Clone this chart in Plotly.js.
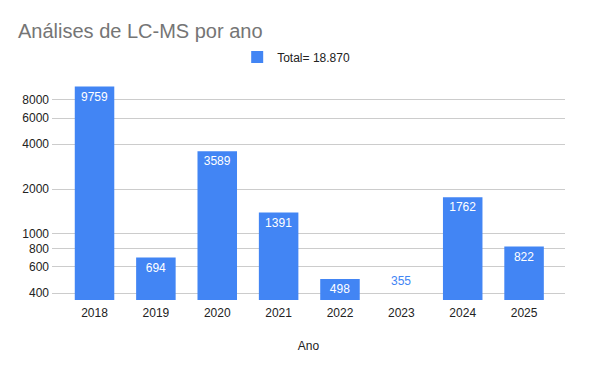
<!DOCTYPE html>
<html>
<head>
<meta charset="utf-8">
<script src="https://cdn.plot.ly/plotly-3.0.1.min.js"></script>
<style>html,body{margin:0;padding:0;background:#fff}#chart{width:600px;height:371px}</style>
</head>
<body>
<div id="chart"></div>
<script>
const years = ['2018','2019','2020','2021','2022','2023','2024','2025'];
const analyses = [9759, 694, 3589, 1391, 498, 355, 1762, 822];
const seriesName = 'Total= 18.870';
const yTickVals = [400, 600, 800, 1000, 2000, 4000, 6000, 8000];
const yTickText = ['400', '600', '800', '1000', '2000', '4000', '6000', '8000'];
const yMin = 360, yMax = 11670;

const BLUE = '#4285F4';
const FONT = 'Arial, "Liberation Sans", sans-serif';

// Labels for bars that fall below the axis minimum are drawn above the axis
const hidden = analyses.map(v => v < yMin);
const annotations = [];
years.forEach((y, i) => {
  if (!hidden[i]) return;
  annotations.push({
    x: i, xref: 'x', y: 0, yref: 'paper',
    text: String(analyses[i]), showarrow: false,
    yanchor: 'bottom', yshift: 10,
    font: {family: FONT, size: 12, color: BLUE}
  });
});

const trace = {
  type: 'bar',
  x: years,
  y: analyses,
  name: seriesName,
  marker: {color: BLUE},
  text: analyses.map((v, i) => hidden[i] ? '' : String(v)),
  textposition: 'inside',
  insidetextanchor: 'end',
  textangle: 0,
  insidetextfont: {family: FONT, size: 12, color: '#ffffff'},
  hoverinfo: 'x+y',
  showlegend: true
};

const layout = {
  width: 600, height: 371,
  autosize: false,
  margin: {l: 52, r: 35, t: 75, b: 71, pad: 0, autoexpand: false},
  paper_bgcolor: '#ffffff', plot_bgcolor: '#ffffff',
  font: {family: FONT, size: 12, color: '#222222'},
  title: {
    text: 'Análises de LC-MS por ano',
    font: {family: FONT, size: 20, color: '#757575'},
    x: 0.03, xanchor: 'left', xref: 'container',
    y: 0.916, yanchor: 'middle', yref: 'container'
  },
  bargap: 0.356,
  showlegend: true,
  legend: {
    orientation: 'h', x: 0.476, xanchor: 'center',
    y: 1.08, yanchor: 'middle',
    font: {family: FONT, size: 12, color: '#222222'}
  },
  xaxis: {
    type: 'category',
    range: [-0.693, 7.667],
    showgrid: false, zeroline: false, showline: false,
    ticks: '', tickangle: 0, automargin: false,
    ticklabelstandoff: 4,
    tickfont: {family: FONT, size: 12, color: '#222222'},
    title: {text: 'Ano', font: {family: FONT, size: 12, color: '#222222'}, standoff: 22}
  },
  yaxis: {
    type: 'log',
    range: [Math.log10(yMin), Math.log10(yMax)],
    tickmode: 'array', tickvals: yTickVals, ticktext: yTickText,
    showgrid: true, gridcolor: '#cccccc', gridwidth: 1,
    zeroline: false, showline: false, ticks: '', automargin: false,
    ticklabelstandoff: 2,
    tickfont: {family: FONT, size: 12, color: '#222222'}
  },
  annotations: annotations
};

Plotly.newPlot('chart', [trace], layout, {displayModeBar: false, staticPlot: true});
</script>
</body>
</html>
